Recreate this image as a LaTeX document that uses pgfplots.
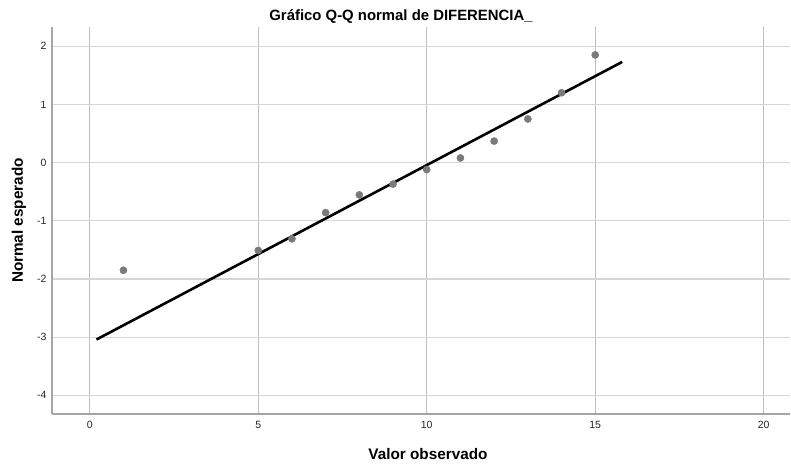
\documentclass[border=0pt]{standalone}
\usepackage{fontspec}
\setmainfont{Liberation Sans}
\usepackage{pgfplots}
\pgfplotsset{compat=1.18}
\definecolor{hgrid}{RGB}{214,214,214}
\definecolor{vgrid}{RGB}{190,190,190}
\definecolor{axisgray}{RGB}{165,165,165}
\definecolor{markgray}{RGB}{122,122,122}
\begin{document}
\begin{tikzpicture}[x=1pt,y=1pt]
\begin{axis}[
  scale only axis,
  width=738pt, height=387pt,
  xmin=-1.12, xmax=20.78,
  ymin=-4.32, ymax=2.33,
  xtick={0,5,...,20}, ytick={-4,...,2},
  grid=major,
  every axis x grid/.append style={vgrid, line width=1pt},
  every axis y grid/.append style={hgrid, line width=1.2pt},
  axis x line*=bottom, axis y line*=left,
  axis line style={axisgray, line width=1.6pt, -},
  major tick length=0pt,
  tick label style={font=\fontsize{10.5}{12}\selectfont, text=black!85},
  /pgf/number format/assume math mode=true,
  xticklabel style={yshift=-4pt},
  yticklabel style={xshift=-2pt},
  clip=false,
]
% reference line of the normal distribution
\addplot[black, line width=2.6pt, no marks] coordinates {(0.2,-3.04) (15.8,1.73)};
% observed values against expected normal scores
\addplot[only marks, mark=*, mark size=3.6pt, mark options={fill=markgray, draw=markgray}]
  coordinates {
  (1,-1.85) (5,-1.51) (6,-1.31) (7,-0.86) (8,-0.555) (9,-0.37)
  (10,-0.12) (11,0.08) (12,0.37) (13,0.75) (14,1.20) (15,1.85)
  };
\end{axis}
\node[anchor=base, font=\bfseries\fontsize{14.9}{17}\selectfont] at ([shift={(349pt,6pt)}]current axis.north west) {Gráfico Q-Q normal de DIFERENCIA\_};
\node[anchor=base, font=\bfseries\fontsize{15.3}{17}\selectfont] at ([shift={(376pt,-45pt)}]current axis.south west) {Valor observado};
\node[anchor=base, font=\bfseries\fontsize{15.3}{17}\selectfont, rotate=90] at ([shift={(-29pt,193.5pt)}]current axis.south west) {Normal esperado};
\pgfresetboundingbox
\path (current axis.south west) ++(-52pt,-49pt) rectangle ++(791pt,463pt);
\end{tikzpicture}
\end{document}
